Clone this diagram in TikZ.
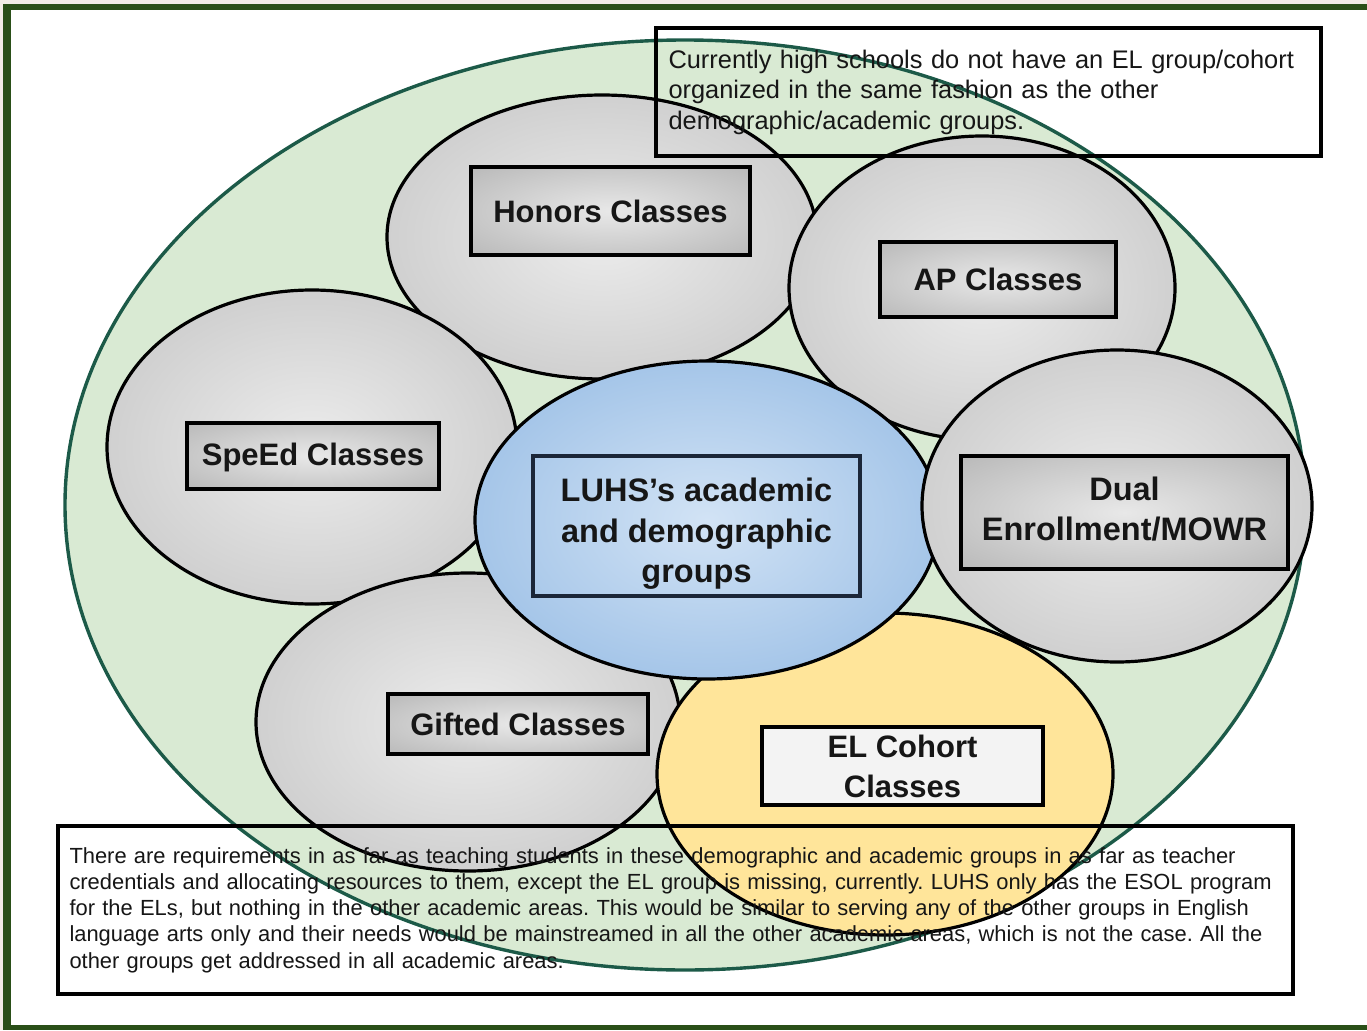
\documentclass[tikz,border=0pt]{standalone}
\usepackage{fontspec}
\setmainfont{Liberation Sans}
\usetikzlibrary{shapes.geometric}

% palette
\definecolor{pagebeige}{HTML}{F2ECE6}
\definecolor{framegreen}{HTML}{2A4F18}
\definecolor{groupgreen}{HTML}{D9EAD3}
\definecolor{rimteal}{HTML}{1C5A48}
\definecolor{ballin}{HTML}{ECECEC}
\definecolor{ballout}{HTML}{B4B4B4}
\definecolor{platein}{HTML}{E8E8E8}
\definecolor{plateout}{HTML}{A6A6A6}
\definecolor{bluein}{HTML}{D2E3F5}
\definecolor{blueout}{HTML}{78A8DC}
\definecolor{elyellow}{HTML}{FFE59A}
\definecolor{elplate}{HTML}{F3F3F3}
\definecolor{inkdark}{HTML}{161616}
\definecolor{navyrim}{HTML}{1B2638}

% radial shadings that run from the centre out to the rim of the shape
\pgfdeclareradialshading{grayball}{\pgfpoint{0bp}{0bp}}{color(0bp)=(ballin); color(50bp)=(ballout)}
\pgfdeclareradialshading{grayplate}{\pgfpoint{0bp}{0bp}}{color(0bp)=(platein); color(50bp)=(plateout)}
\pgfdeclareradialshading{blueball}{\pgfpoint{0bp}{0bp}}{color(0bp)=(bluein); color(50bp)=(blueout)}

\tikzset{
  groupball/.style={ellipse, draw=black, line width=3.2pt, inner sep=0pt},
  grayfill/.style={shade, shading=grayball},
  labelbox/.style={rectangle, draw=black, line width=3.2pt, inner sep=0pt,
    align=center, text=inkdark, font=\bfseries\fontsize{31}{40}\selectfont},
  grayplatefill/.style={shade, shading=grayplate},
  notebox/.style={rectangle, draw=black, line width=3.2pt, inner sep=0pt,
    align=left, text=inkdark}
}

\begin{document}
\frenchspacing
\begin{tikzpicture}[x=1pt, y=-1pt]
  \useasboundingbox (0,0) rectangle (1367,1030);

  % frame
  \fill[pagebeige] (0,0) rectangle (1367,1030);
  \fill[framegreen] (3,4) rectangle (1367,1030);
  \fill[white] (11,10) rectangle (1390,1025);

  % the school as a whole
  \node[ellipse, draw=rimteal, line width=3.4pt, fill=groupgreen, inner sep=0pt,
        minimum width=1240pt, minimum height=930pt] (school) at (685,505) {};

  % groups
  \node[groupball, grayfill, minimum width=430pt, minimum height=284pt] (honors) at (602,237) {};
  \node[groupball, grayfill, minimum width=386pt, minimum height=304pt] (ap) at (982,288) {};
  \node[groupball, grayfill, minimum width=410pt, minimum height=314pt] (speed) at (312,447) {};
  \node[groupball, grayfill, minimum width=424pt, minimum height=298pt] (gifted) at (468,722) {};
  \node[groupball, fill=elyellow, minimum width=456pt, minimum height=322pt] (el) at (885,774) {};
  \node[groupball, shade, shading=blueball, minimum width=464pt, minimum height=318pt] (luhs) at (707,520) {};
  \node[groupball, grayfill, minimum width=390pt, minimum height=312pt] (dual) at (1117,506) {};

  % labels
  \node[labelbox, grayplatefill, minimum width=279pt, minimum height=88pt] (honorslabel) at (610.5,211) {Honors Classes};
  \node[labelbox, grayplatefill, minimum width=236pt, minimum height=75pt] (aplabel) at (998,279.5) {AP Classes};
  \node[labelbox, grayplatefill, minimum width=252pt, minimum height=66pt, text depth=4pt] (speedlabel) at (313,456) {SpeEd Classes};
  \node[labelbox, grayplatefill, minimum width=260pt, minimum height=60pt] (giftedlabel) at (518,724) {Gifted Classes};
  \node[labelbox, fill=elplate, minimum width=281pt, minimum height=78pt] (ellabel) at (902.5,766) {EL Cohort\\Classes};
  \node[labelbox, draw=navyrim, minimum width=327pt, minimum height=140pt,
        font=\bfseries\fontsize{32.5}{40.5}\selectfont] (luhslabel) at (696.5,526)
        {\parbox{320pt}{\centering\vspace*{16pt}LUHS’s academic\\and demographic\\groups}};
  \node[labelbox, grayplatefill, minimum width=327pt, minimum height=113pt,
        font=\bfseries\fontsize{32.5}{40}\selectfont] (duallabel) at (1124.5,512.5)
        {\parbox{320pt}{\centering Dual\\Enrollment/MOWR\par\vspace*{6pt}}};

  % notes
  \node[notebox, minimum width=665pt, minimum height=128pt, text width=640pt,
        font=\fontsize{25.4}{30.5}\selectfont] (topnote) at (988.5,92)
        {Currently high schools do not have an EL group/cohort\\
         organized in the same fashion as the other\\
         demographic/academic groups.};
  \node[notebox, minimum width=1235pt, minimum height=168pt, text width=1212pt,
        font=\fontsize{21.9}{26.3}\selectfont] (bottomnote) at (675.5,910)
        {There are requirements in as far as teaching students in these demographic and academic groups in as far as teacher\\
         credentials and allocating resources to them, except the EL group is missing, currently. LUHS only has the ESOL program\\
         for the ELs, but nothing in the other academic areas. This would be similar to serving any of the other groups in English\\
         language arts only and their needs would be mainstreamed in all the other academic areas, which is not the case. All the\\
         other groups get addressed in all academic areas.};
\end{tikzpicture}
\end{document}
